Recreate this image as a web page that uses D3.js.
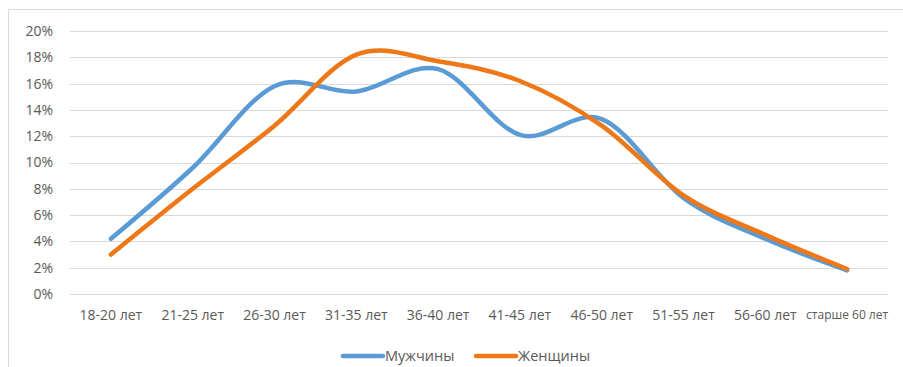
<!DOCTYPE html>
<html>
<head>
<meta charset="utf-8">
<script src="https://cdn.jsdelivr.net/npm/d3@7"></script>
<style>
  html, body { margin: 0; padding: 0; background: #fff; }
  svg { display: block; font-family: "Open Sans", sans-serif; }
</style>
</head>
<body>
<svg id="chart" width="903" height="367"></svg>
<script>
// Age groups
const categories = ["18-20 лет", "21-25 лет", "26-30 лет", "31-35 лет", "36-40 лет",
                    "41-45 лет", "46-50 лет", "51-55 лет", "56-60 лет", "старше 60 лет"];
// Shares, %
const men   = [4.2, 9.6, 15.8, 15.4, 17.1, 12.1, 13.3, 7.3, 4.2, 1.8];
const women = [3.0, 8.0, 12.8, 18.2, 17.7, 16.2, 12.8, 7.5, 4.5, 1.9];
const yTicks = [0, 2, 4, 6, 8, 10, 12, 14, 16, 18, 20];
const seriesNames = ["Мужчины", "Женщины"];
const colors = ["#5b9bd5", "#ee7717"];

const svg = d3.select("#chart");
const W = 903, H = 367;
const margin = { left: 70, right: 15, top: 31, bottom: 73 };
const fontFamily = "\"Open Sans\", sans-serif";

// Outer frame
svg.append("rect").attr("x", 8.5).attr("y", 9.5).attr("width", W).attr("height", H)
  .attr("fill", "none").attr("stroke", "#d9d9d9");

const x = d3.scaleBand().domain(categories).range([margin.left, W - margin.right]);
const y = d3.scaleLinear().domain([0, 20]).range([H - margin.bottom, margin.top]);

// Gridlines
svg.append("g").selectAll("line").data(yTicks).join("line")
  .attr("x1", margin.left).attr("x2", W - margin.right)
  .attr("y1", d => Math.round(y(d)) + 0.5).attr("y2", d => Math.round(y(d)) + 0.5)
  .attr("stroke", "#d9d9d9").attr("stroke-width", 1);

// Y axis labels
const yAxis = d3.axisLeft(y).tickValues(yTicks).tickFormat(d => d + "%").tickSize(0).tickPadding(0);
const gy = svg.append("g").attr("transform", `translate(${margin.left - 17},0)`).call(yAxis);
gy.select(".domain").remove();
gy.selectAll("text").attr("fill", "#595959").style("font-size", "14px")
  .style("font-family", fontFamily);

// X axis labels
const xAxis = d3.axisBottom(x).tickSize(0).tickPadding(0);
const gx = svg.append("g").attr("transform", `translate(0,${H - margin.bottom + 16})`).call(xAxis);
gx.select(".domain").remove();
gx.selectAll("text").attr("fill", "#595959").attr("dy", "0.71em")
  .style("font-size", d => d === "старше 60 лет" ? "12px" : "14px")
  .style("font-family", fontFamily);

// Lines
const line = d3.line()
  .x((d, i) => x(categories[i]) + x.bandwidth() / 2)
  .y(d => y(d))
  .curve(d3.curveCardinal.tension(0));

[men, women].forEach((s, k) => {
  svg.append("path").datum(s)
    .attr("d", line)
    .attr("fill", "none")
    .attr("stroke", colors[k])
    .attr("stroke-width", 4.5)
    .attr("stroke-linecap", "round")
    .attr("stroke-linejoin", "round");
});

// Legend
const legend = svg.append("g").attr("transform", "translate(343,356)");
const legendItems = legend.selectAll("g").data(seriesNames).join("g")
  .attr("transform", (d, i) => `translate(${i * 133},0)`);
legendItems.append("line").attr("x1", 0).attr("x2", 40).attr("y1", 0).attr("y2", 0)
  .attr("stroke", (d, i) => colors[i]).attr("stroke-width", 4.5).attr("stroke-linecap", "round");
legendItems.append("text").attr("x", 42).attr("y", 0).attr("dy", "0.35em")
  .attr("fill", "#595959").style("font-size", "14.5px").style("font-family", fontFamily).text(d => d);
</script>
</body>
</html>
